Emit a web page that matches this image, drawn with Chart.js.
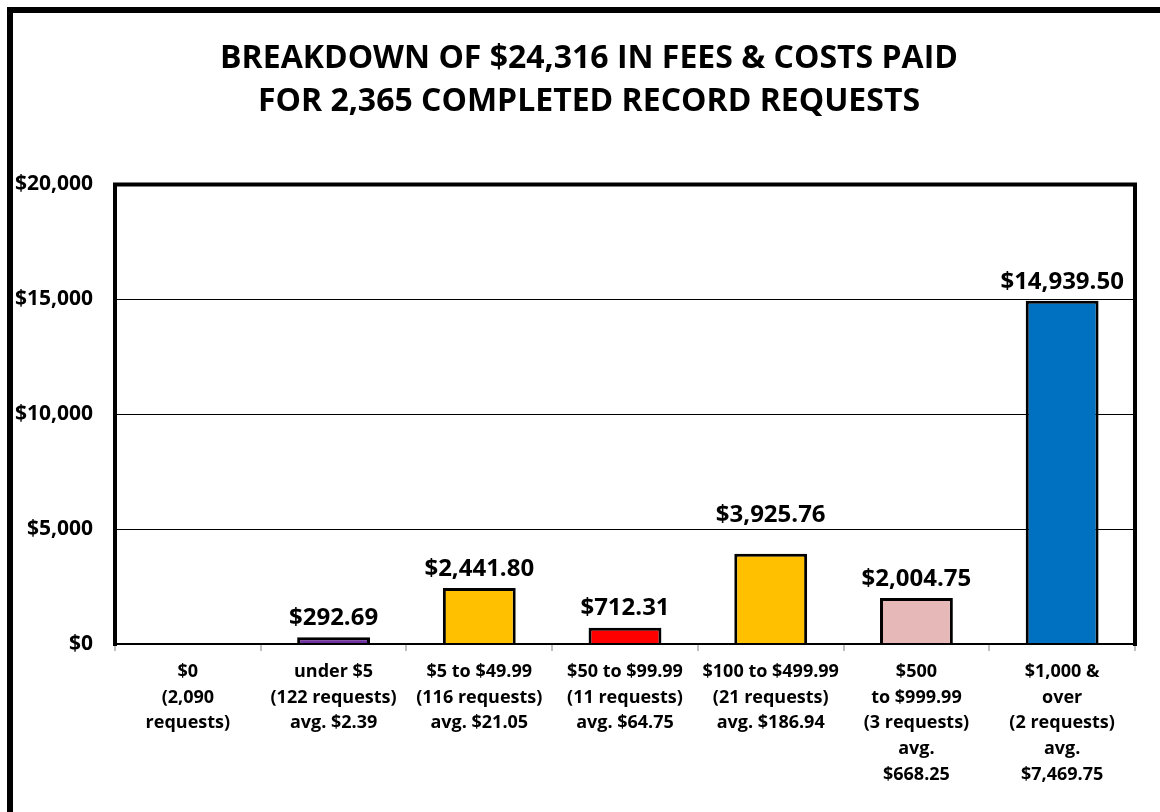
<!DOCTYPE html>
<html>
<head>
<meta charset="utf-8">
<title>Fees & Costs Breakdown</title>
<script src="https://cdn.jsdelivr.net/npm/chart.js@4/dist/chart.umd.min.js"></script>
<style>
    html, body { margin: 0; padding: 0; background: #fff; }
    #wrap { width: 1160px; height: 812px; position: relative; }
</style>
</head>
<body>
<div id="wrap"><canvas id="chart"></canvas></div>
<script>
// Chart data
const categories = [
    ['$0', '(2,090', 'requests)'],
    ['under $5', '(122 requests)', 'avg. $2.39'],
    ['$5 to $49.99', '(116 requests)', 'avg. $21.05'],
    ['$50 to $99.99', '(11 requests)', 'avg. $64.75'],
    ['$100 to $499.99', '(21 requests)', 'avg. $186.94'],
    ['$500', 'to $999.99', '(3 requests)', 'avg.', '$668.25'],
    ['$1,000 &', 'over', '(2 requests)', 'avg.', '$7,469.75']
];
const totals = [0, 292.69, 2441.80, 712.31, 3925.76, 2004.75, 14939.50];
const barColors = ['#7030A0', '#7030A0', '#FFC000', '#FF0000', '#FFC000', '#E6B9B8', '#0070C0'];
const yTicks = [0, 5000, 10000, 15000, 20000];

const FONT = '"Open Sans", Lato, sans-serif';

const money = v => '$' + v.toLocaleString('en-US', { minimumFractionDigits: 2, maximumFractionDigits: 2 });
const moneyTick = v => '$' + v.toLocaleString('en-US');

// outer frame, plot frame and value labels
const decorations = {
    id: 'decorations',
    afterLayout(chart) {
        // the original title sits a bit right of the canvas centre
        const t = chart.titleBlock;
        if (t) {
            t.left = 43;
            t.width = t.right - t.left;
        }
    },
    beforeDraw(chart) {
        const ctx = chart.ctx;
        ctx.save();
        ctx.fillStyle = '#fff';
        ctx.fillRect(0, 0, chart.width, chart.height);
        ctx.strokeStyle = '#000';
        ctx.lineWidth = 6;
        ctx.strokeRect(10, 10, chart.width + 20, chart.height + 20);
        ctx.restore();
    },
    afterDatasetsDraw(chart, args, opts) {
        const ctx = chart.ctx;
        const a = chart.chartArea;
        ctx.save();
        ctx.strokeStyle = '#000';
        ctx.lineCap = 'square';
        ctx.lineWidth = 2;
        ctx.beginPath();
        ctx.moveTo(a.left, a.bottom);
        ctx.lineTo(a.right, a.bottom);
        ctx.stroke();
        ctx.lineWidth = 4;
        ctx.beginPath();
        ctx.moveTo(a.left, a.bottom);
        ctx.lineTo(a.left, a.top);
        ctx.lineTo(a.right, a.top);
        ctx.lineTo(a.right, a.bottom);
        ctx.stroke();

        ctx.fillStyle = '#000';
        ctx.font = 'bold 24px ' + FONT;
        ctx.textAlign = 'center';
        ctx.textBaseline = 'bottom';
        const meta = chart.getDatasetMeta(0);
        meta.data.forEach((bar, i) => {
            const v = totals[i];
            if (!v) return;
            const lift = (opts.extraLift && opts.extraLift[i]) || 0;
            ctx.fillText(money(v), bar.x, bar.y - 7 - lift);
        });
        ctx.restore();
    }
};

function init() {
    const ctx = document.getElementById('chart').getContext('2d');
    new Chart(ctx, {
        type: 'bar',
        data: {
            labels: categories,
            datasets: [{
                data: totals,
                backgroundColor: barColors,
                borderColor: '#000',
                borderWidth: c => (totals[c.dataIndex] ? 3 : 0),
                borderSkipped: 'bottom',
                barPercentage: 0.5,
                categoryPercentage: 1
            }]
        },
        options: {
            responsive: true,
            maintainAspectRatio: false,
            animation: false,
            layout: { padding: { left: 10, right: 25, top: 0, bottom: 0 } },
            plugins: {
                legend: { display: false },
                tooltip: { enabled: false },
                title: {
                    display: true,
                    text: ['BREAKDOWN OF $24,316 IN FEES & COSTS PAID', 'FOR 2,365 COMPLETED RECORD REQUESTS'],
                    color: '#000',
                    font: { family: FONT, size: 32, weight: 'bold', lineHeight: 1.35 },
                    padding: { top: 37, bottom: 61 }
                },
                decorations: { extraLift: { 4: 20 } }
            },
            scales: {
                x: {
                    offset: true,
                    grid: {
                        offset: true,
                        drawOnChartArea: false,
                        drawTicks: true,
                        tickLength: 7,
                        color: '#bfbfbf',
                        lineWidth: 2
                    },
                    border: { display: false },
                    ticks: {
                        color: '#000',
                        padding: 8,
                        maxRotation: 0,
                        autoSkip: false,
                        font: { family: FONT, size: 18, weight: 'bold', lineHeight: 1.43 }
                    },
                    afterFit(scale) { scale.height = 168; }
                },
                y: {
                    min: 0,
                    max: 20000,
                    afterBuildTicks(scale) {
                        scale.ticks = yTicks.map(v => ({ value: v }));
                    },
                    grid: { color: '#000', lineWidth: 1, drawTicks: false },
                    border: { display: false },
                    ticks: {
                        color: '#000',
                        padding: 22,
                        font: { family: FONT, size: 21, weight: 'bold' },
                        callback: v => moneyTick(v)
                    },
                    afterFit(scale) { scale.width = 105; }
                }
            }
        },
        plugins: [decorations]
    });
}

if (document.readyState === 'loading') {
    document.addEventListener('DOMContentLoaded', init);
} else {
    init();
}
</script>
</body>
</html>
